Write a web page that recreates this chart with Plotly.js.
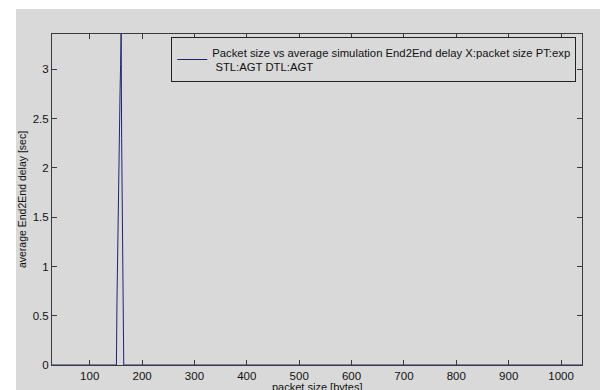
<!DOCTYPE html>
<html>
<head>
<meta charset="utf-8">
<script src="https://cdn.plot.ly/plotly-3.0.1.min.js"></script>
<style>
  html, body { margin: 0; padding: 0; background: #ffffff; }
  #fig { position: absolute; left: 16px; top: 9px; width: 584px; height: 381px; }
</style>
</head>
<body>
<div id="fig"></div>
<script>
// Packet size sweep (bytes) and the measured average end-to-end delay (sec)
const packetSize = [28, 151, 152, 154, 156, 158, 159, 160, 161, 162, 163, 164, 165, 1040];
const avgDelay   = [0, 0, 0.62, 1.5, 2.2, 2.8, 3.05, 3.36, 2.3, 1.65, 0.9, 0.42, 0, 0];

const xTicks = [100, 200, 300, 400, 500, 600, 700, 800, 900, 1000];
const yTicks = [0, 0.5, 1, 1.5, 2, 2.5, 3];

const seriesName = 'Packet size vs average simulation End2End delay X:packet size PT:exp<br> STL:AGT DTL:AGT';
const xLabel = 'packet size [bytes]';
const yLabel = 'average End2End delay [sec]';

const bg = '#d9d9d9';
const fontFam = 'Liberation Sans, Arial, sans-serif';
const axisCommon = {
  showline: true, linecolor: '#3a3a3a', linewidth: 1,
  mirror: 'ticks', ticks: 'inside', ticklen: 5, tickcolor: '#3a3a3a',
  showgrid: false, zeroline: false, automargin: false,
  tickfont: { family: fontFam, size: 11.5, color: '#111' }
};

const trace = {
  x: packetSize, y: avgDelay, type: 'scatter', mode: 'lines',
  name: seriesName,
  line: { color: '#23236e', width: 1 },
  cliponaxis: true
};

const layout = {
  width: 584, height: 381,
  margin: { l: 36, r: 18, t: 25, b: 25 },
  paper_bgcolor: bg, plot_bgcolor: bg,
  showlegend: true,
  legend: {
    x: 0.225, y: 0.99, xanchor: 'left', yanchor: 'top',
    bgcolor: bg, bordercolor: '#222', borderwidth: 1,
    font: { family: fontFam, size: 11.3, color: '#111' },
    itemwidth: 30, tracegroupgap: 0
  },
  xaxis: Object.assign({}, axisCommon, {
    range: [28, 1040], tickvals: xTicks
  }),
  yaxis: Object.assign({}, axisCommon, {
    range: [0, 3.36], tickvals: yTicks,
    title: { text: yLabel, standoff: 6,
             font: { family: fontFam, size: 10.5, color: '#111' } }
  }),
  // x-axis label sits just under the tick labels, at the figure's lower edge
  annotations: [{
    text: xLabel, xref: 'paper', yref: 'paper', x: 0.5, y: -0.066,
    xanchor: 'center', yanchor: 'middle', showarrow: false,
    font: { family: fontFam, size: 11, color: '#111' }
  }]
};

Plotly.newPlot('fig', [trace], layout, { displayModeBar: false, staticPlot: true });
</script>
</body>
</html>
